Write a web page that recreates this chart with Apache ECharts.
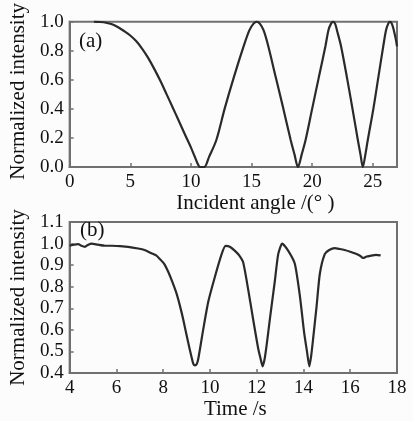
<!DOCTYPE html>
<html>
<head>
<meta charset="utf-8">
<script src="https://cdn.jsdelivr.net/npm/echarts@6/dist/echarts.min.js"></script>
<style>
html,body{margin:0;padding:0;background:#fcfcfc;}
#chart{width:413px;height:421px;}
</style>
</head>
<body>
<div id="chart"></div>
<script>
// Panel (a): incident angle (deg) vs normalized intensity
var angleDeg = [2.0,2.5,3.0,3.5,4.0,4.5,5.0,5.5,6.0,6.5,7.0,7.5,8.0,8.5,9.0,9.5,10.0,10.3,10.6,10.75,11.1,11.5,12.1,12.78,13.54,14.36,14.82,15.15,15.43,15.7,16.0,16.38,17.0,17.63,18.23,18.55,18.83,19.15,19.46,20.0,20.55,21.1,21.34,21.55,21.73,21.9,22.05,22.38,22.87,23.33,23.77,24.0,24.18,24.38,24.59,25.05,25.46,25.87,26.09,26.27,26.42,26.58,26.74,26.9,27.0];
var intensityA = [1.0,0.998,0.993,0.982,0.962,0.935,0.905,0.865,0.812,0.748,0.672,0.59,0.5,0.41,0.318,0.225,0.135,0.075,0.015,0.0,0.0,0.07,0.186,0.40,0.617,0.833,0.94,0.985,1.0,0.985,0.94,0.833,0.617,0.40,0.186,0.085,0.0,0.09,0.186,0.40,0.617,0.833,0.94,0.985,1.0,0.985,0.94,0.833,0.617,0.40,0.186,0.08,0.0,0.08,0.186,0.40,0.617,0.833,0.94,0.985,1.0,0.985,0.94,0.88,0.83];

// Panel (b): time (s) vs normalized intensity
var timeS = [4.0,4.2,4.37,4.5,4.65,4.8,4.94,5.2,5.51,5.8,6.15,6.5,6.93,7.2,7.5,7.7,7.86,8.05,8.22,8.4,8.57,8.72,8.86,9.07,9.2,9.29,9.36,9.43,9.5,9.71,9.93,10.21,10.5,10.67,10.85,11.07,11.25,11.42,11.64,11.85,12.07,12.18,12.25,12.33,12.42,12.56,12.78,12.92,13.09,13.35,13.63,13.85,14.03,14.15,14.25,14.33,14.41,14.56,14.7,14.91,15.1,15.34,15.55,15.76,16.0,16.19,16.4,16.55,16.7,16.9,17.1,17.3];
var intensityB = [0.99,0.995,0.997,0.99,0.985,0.995,1.0,0.995,0.99,0.99,0.988,0.985,0.977,0.97,0.955,0.945,0.928,0.905,0.868,0.82,0.769,0.71,0.647,0.541,0.48,0.442,0.435,0.44,0.465,0.60,0.731,0.845,0.951,0.989,0.985,0.966,0.945,0.913,0.784,0.647,0.51,0.46,0.431,0.46,0.526,0.647,0.83,0.951,1.0,0.966,0.906,0.754,0.586,0.5,0.431,0.48,0.556,0.708,0.86,0.951,0.97,0.979,0.975,0.97,0.962,0.955,0.945,0.933,0.94,0.944,0.948,0.945];

function pairs(xs, ys){ return xs.map(function(x,i){ return [x, ys[i]]; }); }

var FONT = 'Liberation Serif';
var frame = '#707070';
function axisCommon(){
  return {
    axisLine:{show:true,lineStyle:{color:frame,width:2}},
    axisTick:{show:true,inside:true,length:4,lineStyle:{color:frame,width:1.5}},
    splitLine:{show:false}
  };
}
function merge(a,b){ for(var k in b){ a[k]=b[k]; } return a; }
function lbl(extra){ return merge({color:'#111',fontFamily:FONT,fontSize:19},extra||{}); }
function ttl(extra){ return merge({color:'#111',fontFamily:FONT,fontSize:21},extra||{}); }
var fmt1 = function(v){ return v.toFixed(1); };

var chart = echarts.init(document.getElementById('chart'), null, {renderer:'canvas'});
chart.setOption({
  backgroundColor:'#fcfcfc',
  animation:false,
  grid:[
    {left:67,right:16,top:13,height:154,show:true,borderColor:frame,borderWidth:2,backgroundColor:'transparent'},
    {left:67,right:16,top:222,height:154,show:true,borderColor:frame,borderWidth:2,backgroundColor:'transparent'}
  ],
  xAxis:[
    merge(axisCommon(),{type:'value',gridIndex:0,min:0,max:27,interval:5,
      name:'Incident angle /(° )',nameLocation:'middle',nameGap:26,
      nameTextStyle:ttl({padding:[0,0,0,44]}),
      axisLabel:lbl({margin:6,showMaxLabel:false})}),
    merge(axisCommon(),{type:'value',gridIndex:1,min:4,max:18,interval:2,
      name:'Time /s',nameLocation:'middle',nameGap:26,
      nameTextStyle:ttl({padding:[0,0,0,4]}),
      axisLabel:lbl({margin:6})})
  ],
  yAxis:[
    merge(axisCommon(),{type:'value',gridIndex:0,min:0,max:1,interval:0.2,
      name:'Normalized intensity',nameLocation:'middle',nameGap:36,
      nameTextStyle:ttl({padding:[0,0,0,6]}),
      axisLabel:lbl({margin:6,formatter:fmt1})}),
    merge(axisCommon(),{type:'value',gridIndex:1,min:0.4,max:1.1,interval:0.1,
      name:'Normalized intensity',nameLocation:'middle',nameGap:36,
      nameTextStyle:ttl({}),
      axisLabel:lbl({margin:6,formatter:fmt1})})
  ],
  graphic:[
    {type:'text',left:79,top:31,style:{text:'(a)',font:'21px "Liberation Serif"',fill:'#111'}},
    {type:'text',left:80,top:220,style:{text:'(b)',font:'21px "Liberation Serif"',fill:'#111'}}
  ],
  series:[
    {type:'line',xAxisIndex:0,yAxisIndex:0,data:pairs(angleDeg,intensityA),showSymbol:false,smooth:0.3,
      lineStyle:{color:'#2a2a2a',width:2.2}},
    {type:'line',xAxisIndex:1,yAxisIndex:1,data:pairs(timeS,intensityB),showSymbol:false,smooth:0.2,
      lineStyle:{color:'#2a2a2a',width:2.2}}
  ]
});
</script>
</body>
</html>
